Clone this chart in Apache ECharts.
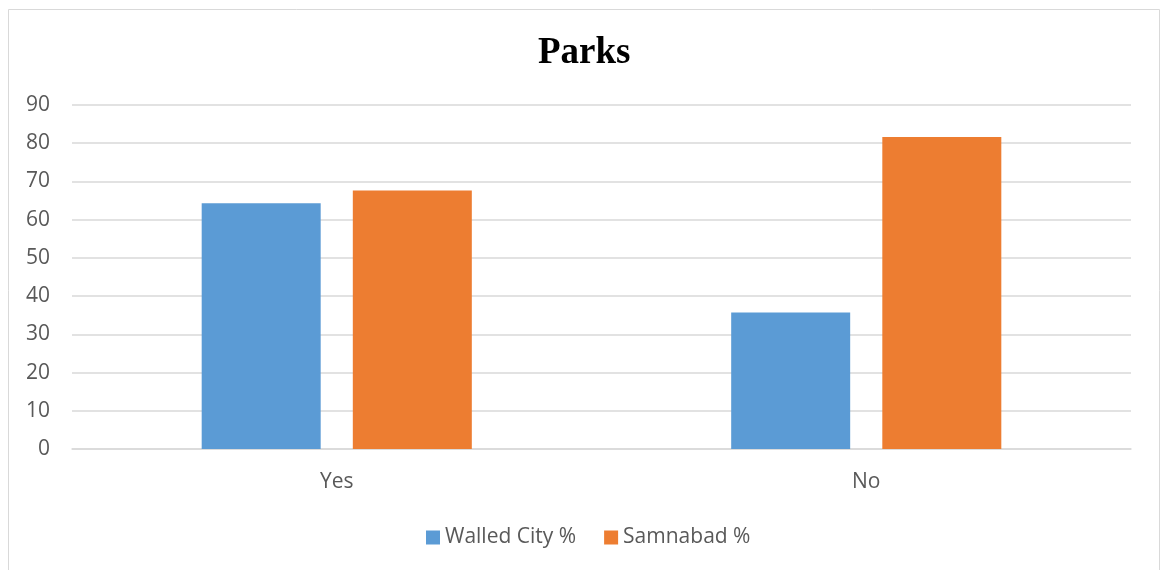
<!DOCTYPE html>
<html>
<head>
<meta charset="utf-8">
<script src="https://cdn.jsdelivr.net/npm/echarts@6/dist/echarts.min.js"></script>
<style>
html,body{margin:0;padding:0;background:#fff;}
#chart{width:1162px;height:570px;}
</style>
</head>
<body>
<div id="chart"></div>
<script>
const categories = ['Yes', 'No'];
const walledCity = [64.3, 35.7];
const samnabad = [67.6, 81.6];
const seriesNames = ['Walled City %', 'Samnabad %'];
const yTicks = { min: 0, max: 90, interval: 10 };

const chart = echarts.init(document.getElementById('chart'));
const labelFont = "'Open Sans', 'Noto Sans', sans-serif";
chart.setOption({
  animation: false,
  backgroundColor: '#fff',
  graphic: [{
    type: 'rect',
    shape: { x: 8.5, y: 9.5, width: 1151, height: 580 },
    style: { fill: 'none', stroke: '#d9d9d9', lineWidth: 1 },
    silent: true,
    z: 0
  }],
  title: {
    text: 'Parks',
    left: 533,
    top: 30,
    textStyle: {
      fontFamily: "'Liberation Serif', 'DejaVu Serif', serif",
      fontWeight: 'bold',
      fontSize: 37,
      color: '#000'
    }
  },
  legend: {
    data: seriesNames,
    left: 421,
    top: 522,
    itemWidth: 14,
    itemHeight: 14,
    itemGap: 28,
    icon: 'rect',
    textStyle: { fontFamily: labelFont, fontSize: 21, color: '#595959' }
  },
  grid: { left: 72, right: 31, top: 105, bottom: 121, containLabel: false },
  xAxis: {
    type: 'category',
    data: categories,
    axisLine: { lineStyle: { color: '#d9d9d9', width: 1.5 } },
    axisTick: { show: false },
    axisLabel: { fontFamily: labelFont, fontSize: 21, color: '#595959', margin: 23 }
  },
  yAxis: {
    type: 'value',
    min: yTicks.min,
    max: yTicks.max,
    interval: yTicks.interval,
    axisLine: { show: false },
    axisTick: { show: false },
    axisLabel: { fontFamily: labelFont, fontSize: 21, color: '#595959', margin: 22 },
    splitLine: { lineStyle: { color: '#d9d9d9', width: 1.5 } }
  },
  series: [
    { name: seriesNames[0], type: 'bar', data: walledCity, barWidth: 119, barGap: '27%',
      itemStyle: { color: '#5B9BD5' } },
    { name: seriesNames[1], type: 'bar', data: samnabad, barWidth: 119, barGap: '27%',
      itemStyle: { color: '#ED7D31' } }
  ]
});
</script>
</body>
</html>
